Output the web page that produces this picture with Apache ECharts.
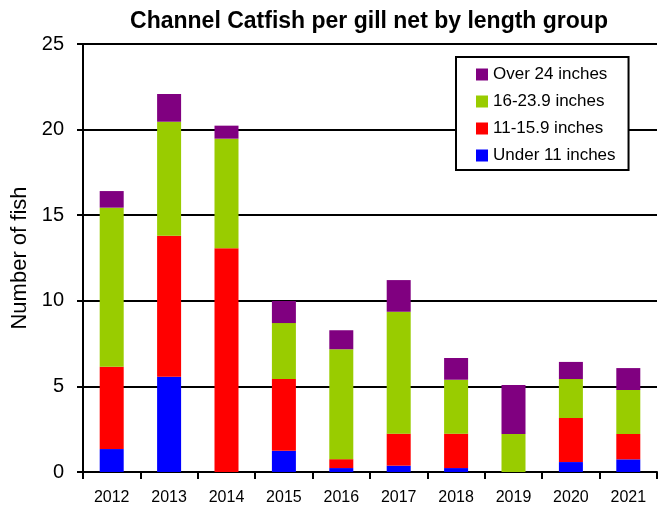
<!DOCTYPE html>
<html>
<head>
<meta charset="utf-8">
<script src="https://cdn.jsdelivr.net/npm/echarts@6/dist/echarts.min.js"></script>
<style>html,body{margin:0;padding:0;background:#fff;}#chart{width:658px;height:511px;}</style>
</head>
<body>
<div id="chart"></div>
<script>
var years = ['2012','2013','2014','2015','2016','2017','2018','2019','2020','2021'];
var under11 = [1.34, 5.57, 0, 1.24, 0.23, 0.37, 0.23, 0, 0.58, 0.74];
var in11to15 = [4.81, 8.23, 13.07, 4.19, 0.52, 1.87, 2.01, 0, 2.57, 1.48];
var in16to23 = [9.29, 6.66, 6.40, 3.27, 6.42, 7.12, 3.15, 2.22, 2.28, 2.57];
var over24 = [0.97, 1.62, 0.76, 1.29, 1.11, 1.85, 1.27, 2.86, 1.00, 1.28];
var seriesNames = ['Under 11 inches', '11-15.9 inches', '16-23.9 inches', 'Over 24 inches'];
var yTicks = [0, 5, 10, 15, 20, 25];

var font = 'Liberation Sans, Arial, sans-serif';
var chart = echarts.init(document.getElementById('chart'));
function ser(name, data, color) {
  return {name: name, type: 'bar', stack: 'total', data: data, barWidth: 24,
    itemStyle: {color: color}, emphasis: {disabled: true}};
}
chart.setOption({
  animation: false,
  title: {text: 'Channel Catfish per gill net by length group', left: 364, top: 5, textAlign: 'center',
    textStyle: {fontFamily: font, fontWeight: 'bold', fontSize: 23, color: '#000'}},
  grid: {left: 83, right: 1, top: 44, bottom: 39},
  legend: {orient: 'vertical', left: 456, top: 57, itemWidth: 12, itemHeight: 12, itemGap: 10,
    icon: 'rect', data: seriesNames.slice().reverse(), borderColor: '#000', borderWidth: 2,
    backgroundColor: '#fff', padding: [9, 13, 6, 20],
    textStyle: {fontFamily: font, fontSize: 17, color: '#000'}},
  xAxis: {type: 'category', data: years,
    axisLine: {lineStyle: {color: '#000', width: 2}},
    axisTick: {show: true, length: 7, lineStyle: {color: '#000', width: 2}},
    axisLabel: {fontFamily: font, fontSize: 16, color: '#000', margin: 18}},
  yAxis: {type: 'value', min: yTicks[0], max: yTicks[yTicks.length - 1], interval: 5,
    name: 'Number of fish', nameLocation: 'middle', nameGap: 50, nameRotate: 90,
    nameTextStyle: {fontFamily: font, fontSize: 22, color: '#000'},
    axisLine: {show: true, lineStyle: {color: '#000', width: 2}},
    axisTick: {show: true, length: 6, lineStyle: {color: '#000', width: 2}},
    axisLabel: {fontFamily: font, fontSize: 20, color: '#000', margin: 19},
    splitLine: {show: true, lineStyle: {color: '#000', width: 2}}},
  series: [
    ser(seriesNames[0], under11, '#0000FF'),
    ser(seriesNames[1], in11to15, '#FF0000'),
    ser(seriesNames[2], in16to23, '#99CC00'),
    ser(seriesNames[3], over24, '#800080')
  ]
});
</script>
</body>
</html>
